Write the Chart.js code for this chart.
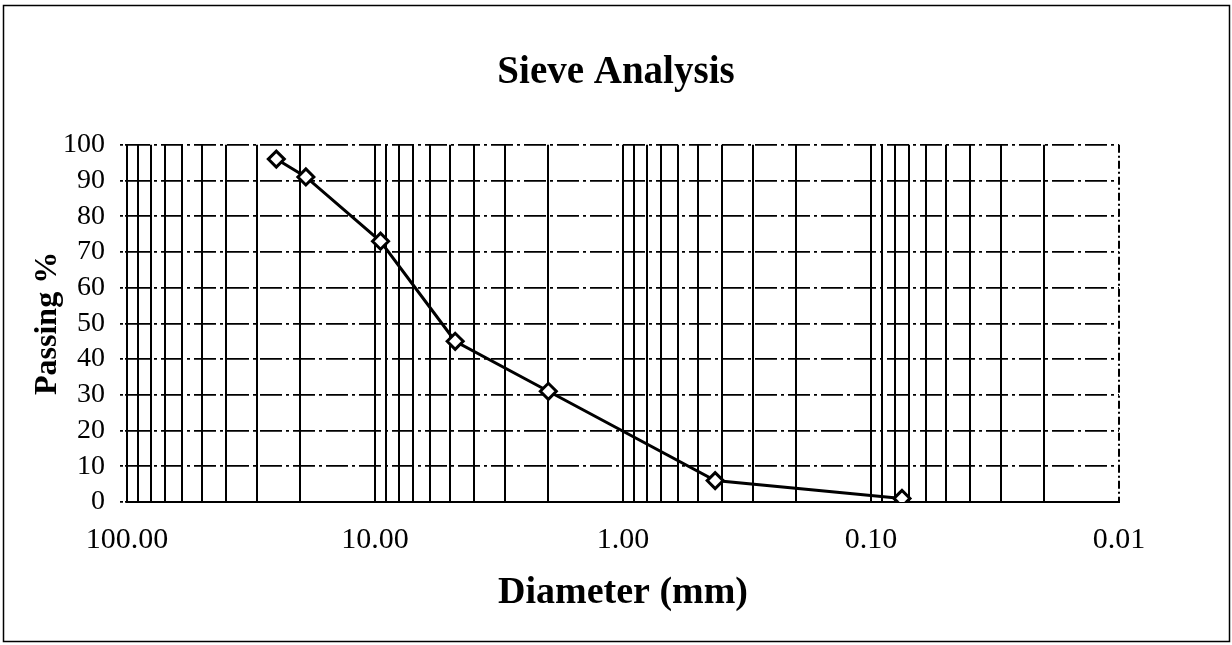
<!DOCTYPE html>
<html>
<head>
<meta charset="utf-8">
<title>Sieve Analysis</title>
<script src="https://cdn.jsdelivr.net/npm/chart.js@4.4.0/dist/chart.umd.min.js"></script>
<style>
  html, body { margin: 0; padding: 0; background: #fff; }
  canvas { display: block; }
</style>
</head>
<body>
<canvas id="sieveChart" width="1232" height="645"></canvas>
<script>
// sieve opening (mm) and percent passing
const sieveSizes = [25, 19, 9.5, 4.75, 2.0, 0.425, 0.075];
const passing = [96, 91, 73, 45, 31, 6, 1];

// log axis: labelled decades and the 1..9 minor lines inside each decade
const xDecades = [100, 10, 1, 0.1, 0.01];
const xTickLabels = ['100.00', '10.00', '1.00', '0.10', '0.01'];
const gridMultipliers = [1, 2, 3, 4, 5, 6, 7, 8, 9];
const yTicks = [0, 10, 20, 30, 40, 50, 60, 70, 80, 90, 100];

const serif = "'Liberation Serif', 'Times New Roman', serif";

const frame = {
  id: 'frame',
  beforeDraw(chart) {
    const ctx = chart.ctx;
    ctx.save();
    ctx.fillStyle = '#fff';
    ctx.fillRect(0, 0, chart.width, chart.height);
    ctx.strokeStyle = '#000';
    ctx.lineWidth = 1.5;
    ctx.strokeRect(3.5, 5.5, 1226, 636);
    ctx.restore();
  }
};

const points = sieveSizes.map((s, i) => ({ x: s, y: passing[i] }));

new Chart(document.getElementById('sieveChart'), {
  type: 'line',
  data: {
    datasets: [{
      data: points,
      borderColor: '#000',
      borderWidth: 3,
      pointStyle: 'rectRot',
      pointRadius: 8,
      pointBorderWidth: 3,
      pointBackgroundColor: '#fff',
      pointBorderColor: '#000',
      tension: 0
    }]
  },
  plugins: [frame],
  options: {
    responsive: false,
    animation: false,
    layout: { padding: 0 },
    plugins: {
      legend: { display: false },
      tooltip: { enabled: false },
      title: {
        display: true,
        text: 'Sieve Analysis',
        color: '#000',
        font: { family: serif, size: 39, weight: 'bold' },
        padding: { top: 50, bottom: 48 }
      }
    },
    scales: {
      x: {
        type: 'logarithmic',
        reverse: true,
        min: 0.01,
        max: 100,
        afterFit(scale) { scale.height = 143; },
        afterBuildTicks(scale) {
          const vals = [];
          xDecades.slice(1).forEach(d => {
            gridMultipliers.forEach(m => vals.push(parseFloat((d * m).toPrecision(3))));
          });
          vals.push(100);
          scale.ticks = vals.sort((a, b) => a - b).map(v => ({ value: v }));
        },
        ticks: {
          autoSkip: false,
          maxRotation: 0,
          padding: 20,
          color: '#000',
          font: { family: serif, size: 30 },
          callback(value) {
            const i = xDecades.findIndex(d => Math.abs(d - value) < 1e-9);
            return i >= 0 ? xTickLabels[i] : '';
          }
        },
        grid: {
          color: '#000',
          lineWidth: 2,
          drawTicks: false
        },
        border: {
          color: '#000',
          width: 2,
          dash: ctx => (ctx.tick && ctx.tick.value === 0.01 ? [8, 3, 2, 3] : [])
        },
        title: {
          display: true,
          text: 'Diameter (mm)',
          color: '#000',
          font: { family: serif, size: 38, weight: 'bold' },
          padding: { top: 0, bottom: 29 }
        }
      },
      y: {
        min: 0,
        max: 100,
        afterFit(scale) { scale.width = 127; },
        afterBuildTicks(scale) {
          scale.ticks = yTicks.map(v => ({ value: v }));
        },
        ticks: {
          autoSkip: false,
          padding: 15,
          color: '#000',
          font: { family: serif, size: 28 }
        },
        grid: {
          color: '#000',
          lineWidth: 1.8,
          tickLength: 7,
          tickBorderDash: [3, 2]
        },
        border: {
          color: '#000',
          width: 2,
          dash: [22, 4, 3, 4]
        },
        title: {
          display: true,
          text: 'Passing %',
          color: '#000',
          font: { family: serif, size: 32, weight: 'bold' },
          padding: { top: 29, bottom: 0 }
        }
      },
      // empty right-hand box keeps the plot clear of the frame's right side
      yRight: {
        position: 'right',
        afterFit(scale) { scale.width = 113; },
        ticks: { display: false },
        grid: { display: false, drawOnChartArea: false },
        border: { display: false }
      }
    }
  }
});
</script>
</body>
</html>
